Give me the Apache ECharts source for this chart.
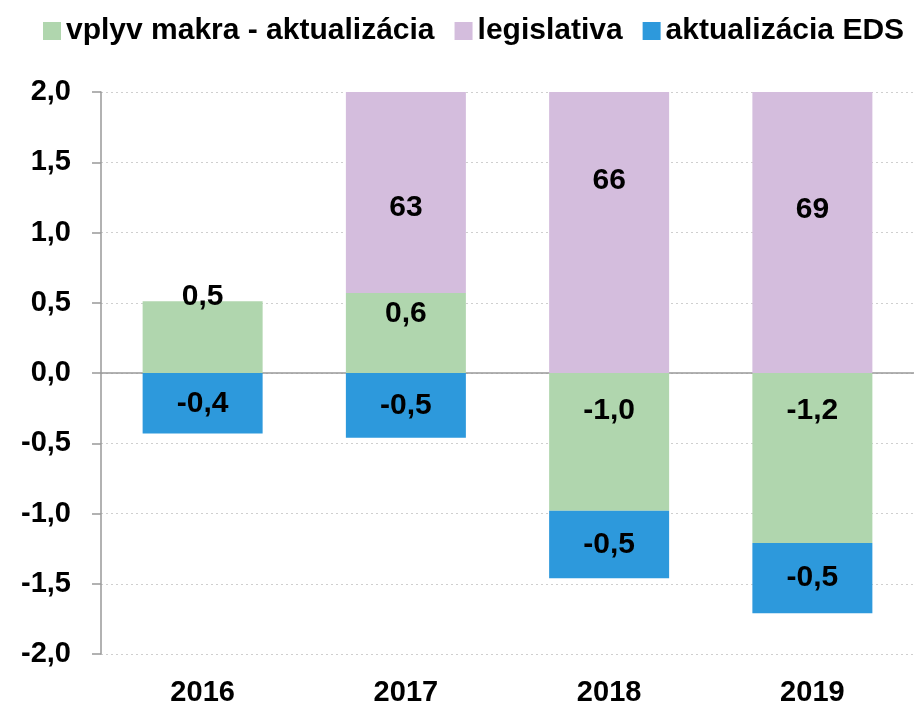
<!DOCTYPE html>
<html>
<head>
<meta charset="utf-8">
<script src="https://cdn.jsdelivr.net/npm/echarts@6/dist/echarts.min.js"></script>
<style>
html,body{margin:0;padding:0;background:#fff;}
#chart{width:914px;height:708px;}
</style>
</head>
<body>
<div id="chart"></div>
<script>
// ---- data ----
const categories = ['2016', '2017', '2018', '2019'];
const seriesNames = ['vplyv makra - aktualizácia', 'legislativa', 'aktualizácia EDS'];
const makro = [0.51, 0.57, -0.98, -1.21];
const legislativa = [null, 63, 66, 69];
const eds = [-0.43, -0.46, -0.48, -0.50];
const yTicks = [-2.0, -1.5, -1.0, -0.5, 0.0, 0.5, 1.0, 1.5, 2.0];

// ---- styling ----
const FONT = "'Liberation Sans', Arial, Helvetica, sans-serif";
const colors = ['#b0d6ae', '#d4bddd', '#2d99dc'];
const makroLabelOffsetY = [-40, -19, -31, -47];
const legisLabelOffsetY = [0, 15, -52, -23];
const edsLabelOffsetY = [1, 0, 0, 0];

const fmt1 = v => Number(v).toFixed(1).replace('.', ',');

function buildData(values, offsets) {
  return values.map((v, i) => ({
    value: v,
    label: { offset: [0, offsets[i]] }
  }));
}

const labelBase = {
  show: true,
  position: 'inside',
  color: '#000',
  fontFamily: FONT,
  fontWeight: 'bold',
  fontSize: 30
};

const chart = echarts.init(document.getElementById('chart'), null, { renderer: 'canvas' });
chart.setOption({
  animation: false,
  backgroundColor: '#fff',
  color: colors,
  textStyle: { fontFamily: FONT },
  legend: {
    data: seriesNames,
    left: 43,
    top: 16,
    padding: 0,
    icon: 'rect',
    itemWidth: 18,
    itemHeight: 18,
    itemGap: 20,
    textStyle: { fontFamily: FONT, fontWeight: 'bold', fontSize: 30, color: '#000', lineHeight: 30 }
  },
  grid: { left: 101, top: 92, width: 816, height: 562, containLabel: false },
  xAxis: [
    {
      type: 'category',
      data: categories,
      axisLine: { show: true, onZero: true, lineStyle: { color: '#999', width: 1.5 } },
      axisTick: { show: false },
      axisLabel: { show: false },
      splitLine: { show: false }
    },
    {
      type: 'category',
      data: categories,
      position: 'bottom',
      axisLine: { show: false, onZero: false },
      axisTick: { show: false },
      axisLabel: { show: true, margin: 24, color: '#000', fontFamily: FONT, fontWeight: 'bold', fontSize: 29 },
      splitLine: { show: false }
    }
  ],
  yAxis: {
    type: 'value',
    min: yTicks[0],
    max: yTicks[yTicks.length - 1],
    interval: 0.5,
    axisLine: { show: true, lineStyle: { color: '#999', width: 1.5 } },
    axisTick: { show: true, length: 9, lineStyle: { color: '#999', width: 1.5 } },
    axisLabel: {
      margin: 30,
      color: '#000',
      fontFamily: FONT,
      fontWeight: 'bold',
      fontSize: 29,
      formatter: v => fmt1(v)
    },
    splitLine: { show: true, lineStyle: { color: '#cfcfcf', type: [2, 3], width: 1 } }
  },
  series: [
    {
      name: seriesNames[0],
      type: 'bar',
      stack: 'total',
      barWidth: 120,
      clip: true,
      itemStyle: { color: colors[0] },
      label: Object.assign({}, labelBase, { formatter: p => fmt1(p.value) }),
      data: buildData(makro, makroLabelOffsetY)
    },
    {
      name: seriesNames[1],
      type: 'bar',
      stack: 'total',
      barWidth: 120,
      clip: true,
      itemStyle: { color: colors[1] },
      label: Object.assign({}, labelBase, { formatter: p => p.value == null ? '' : String(Math.round(p.value)) }),
      data: buildData(legislativa, legisLabelOffsetY)
    },
    {
      name: seriesNames[2],
      type: 'bar',
      stack: 'total',
      barWidth: 120,
      clip: true,
      itemStyle: { color: colors[2] },
      label: Object.assign({}, labelBase, { formatter: p => fmt1(p.value) }),
      data: buildData(eds, edsLabelOffsetY)
    }
  ]
});
</script>
</body>
</html>
